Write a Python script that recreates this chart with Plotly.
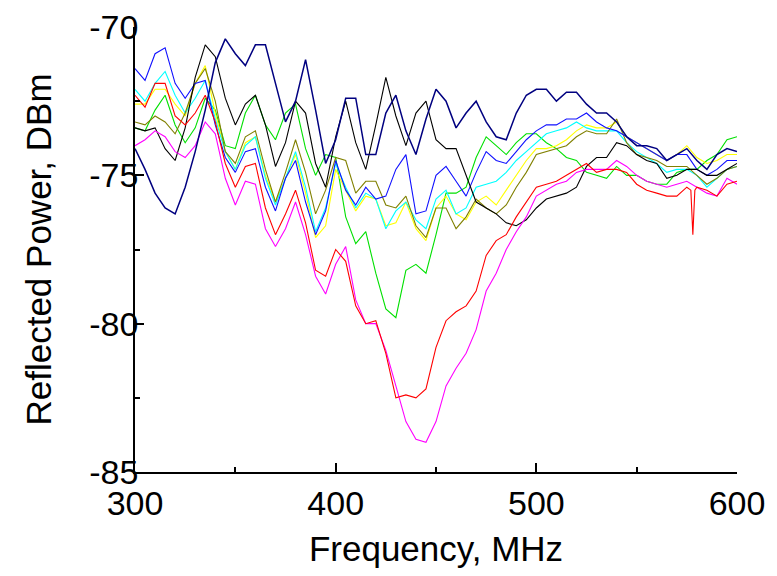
import plotly.graph_objects as go

freq = list(range(300, 601, 5))

navy = [-74.1, -74.8, -75.6, -76.1, -76.3, -75.4, -74.2, -72.8, -71.2, -70.4,
        -70.9, -71.3, -70.6, -70.6, -71.9, -73.2, -72.5, -71.1, -72.8, -74.6,
        -73.8, -72.4, -72.4, -74.3, -74.3, -72.9, -72.3, -73.5, -74.3, -73.1,
        -72.1, -72.5, -73.4, -72.9, -72.5, -73.2, -73.7, -73.8, -72.9, -72.3,
        -72.1, -72.1, -72.5, -72.2, -72.2, -72.6, -72.9, -72.9, -73.2, -73.7,
        -74.0, -74.0, -74.1, -74.5, -74.3, -74.1, -74.5, -74.8, -74.3, -74.1, -74.2]

black = [-73.4, -73.5, -73.4, -74.1, -74.5, -73.4, -71.7, -70.6, -71.0, -72.4,
         -73.3, -72.6, -72.3, -73.3, -74.7, -73.9, -72.5, -72.9, -74.6, -75.4,
         -73.7, -72.5, -73.9, -74.8, -73.3, -71.7, -73.0, -74.0, -72.9, -72.5,
         -73.8, -74.1, -74.1, -75.0, -75.9, -76.1, -76.3, -76.6, -76.7, -76.5,
         -76.1, -75.8, -75.7, -75.6, -75.4, -74.7, -74.4, -74.4, -73.9, -74.0,
         -74.3, -74.5, -74.6, -75.1, -75.0, -74.8, -74.8, -75.0, -75.0, -74.8, -74.6]

blue = [-71.4, -71.8, -70.9, -70.7, -71.9, -72.4, -71.9, -71.8, -73.3, -74.4,
        -74.9, -74.2, -74.1, -75.4, -76.2, -75.1, -74.5, -75.9, -77.0, -76.2,
        -74.5, -75.5, -76.0, -75.4, -75.8, -75.7, -74.8, -74.3, -76.3, -76.2,
        -75.0, -74.7, -75.2, -75.7, -74.9, -74.2, -74.5, -74.6, -74.2, -73.8,
        -73.5, -73.3, -73.3, -73.1, -73.1, -72.9, -73.2, -73.4, -73.5, -73.7,
        -73.9, -74.1, -74.3, -74.5, -74.3, -74.3, -74.8, -75.0, -74.8, -74.5, -74.5]

cyan = [-72.1, -72.5, -71.9, -71.5, -72.3, -72.9, -72.4, -71.8, -73.1, -74.2,
        -74.8, -74.0, -73.7, -75.1, -76.0, -75.1, -74.2, -75.4, -76.9, -76.1,
        -74.6, -75.4, -76.1, -75.6, -75.8, -76.8, -76.2, -75.9, -76.5, -76.8,
        -75.8, -75.5, -76.3, -76.1, -75.4, -75.3, -75.2, -74.9, -74.5, -74.2,
        -73.9, -73.6, -73.5, -73.4, -73.2, -73.4, -73.5, -73.5, -73.5, -73.9,
        -74.2, -74.4, -74.6, -74.9, -74.8, -74.8, -75.0, -75.4, -75.1, -74.8, -74.7]

yellow = [-72.6, -72.6, -72.1, -72.1, -72.6, -73.0, -71.9, -71.3, -72.9, -74.2,
          -74.8, -73.9, -73.7, -75.0, -75.9, -75.1, -74.3, -75.6, -77.1, -76.7,
          -74.8, -75.5, -76.2, -75.7, -75.8, -76.7, -76.6, -75.9, -76.8, -77.2,
          -76.1, -75.7, -76.3, -76.5, -75.9, -75.7, -76.0, -75.5, -75.0, -74.5,
          -74.1, -74.1, -74.0, -73.8, -73.5, -73.3, -73.4, -73.4, -73.2, -73.7,
          -73.9, -74.1, -74.3, -74.5, -74.3, -74.0, -74.4, -74.6, -74.5, -74.3, -74.3]

olive = [-73.2, -73.3, -73.0, -73.2, -73.6, -72.9, -71.9, -71.4, -72.5, -74.2,
         -74.6, -73.7, -73.5, -74.8, -75.9, -74.9, -73.8, -74.9, -76.3, -75.5,
         -74.4, -74.5, -75.6, -75.2, -75.2, -76.0, -76.1, -75.7, -76.7, -77.1,
         -76.1, -76.1, -76.8, -76.4, -75.8, -76.1, -76.3, -76.0, -75.4, -74.9,
         -74.3, -74.2, -74.1, -74.0, -73.7, -73.5, -73.6, -73.6, -73.1, -73.9,
         -74.3, -74.4, -74.5, -74.7, -74.7, -74.7, -75.0, -75.3, -75.1, -74.8, -74.7]

green = [-73.4, -73.5, -72.8, -72.3, -73.3, -73.9, -73.4, -72.4, -72.8, -74.0,
         -74.1, -72.9, -72.3, -73.3, -73.8, -72.9, -72.6, -74.1, -75.0, -74.3,
         -74.4, -76.4, -77.3, -76.9, -78.3, -79.5, -79.8, -78.2, -78.0, -78.3,
         -77.0, -75.6, -75.6, -75.4, -74.4, -73.7, -74.0, -74.3, -73.9, -73.6,
         -73.6, -73.9, -74.1, -74.4, -74.5, -74.9, -75.0, -75.1, -74.7, -75.0,
         -75.0, -75.2, -75.3, -75.3, -74.9, -74.8, -74.8, -74.5, -74.3, -73.8, -73.7]

red = [-72.3, -72.7, -71.9, -71.9, -73.0, -73.3, -72.9, -72.3, -73.2, -74.6,
       -75.4, -74.7, -74.6, -76.1, -77.0, -76.3, -75.5, -76.6, -78.2, -78.4,
       -77.5, -77.9, -79.4, -80.0, -79.9, -81.0, -82.5, -82.4, -82.5, -82.2,
       -80.8, -79.9, -79.6, -79.4, -78.9, -77.7, -77.2, -77.0, -76.4, -75.9,
       -75.4, -75.3, -75.2, -75.0, -74.8, -74.6, -74.9, -74.8, -74.8, -74.9,
       -75.3, -75.5, -75.6, -75.7, -75.7, -75.4, -75.4, -75.5, -75.7, -75.3, -75.2]

magenta = [-74.0, -73.8, -73.5, -73.7, -74.2, -74.4, -74.0, -73.2, -73.6, -75.1,
           -76.0, -75.2, -75.3, -76.8, -77.4, -76.8, -75.9, -77.0, -78.4, -79.0,
           -78.0, -77.4, -79.2, -80.0, -80.0, -80.9, -82.1, -83.3, -83.9, -84.0,
           -83.3, -82.1, -81.5, -81.0, -80.2, -78.9, -78.3, -77.5, -76.9, -76.4,
           -75.7, -75.5, -75.3, -75.2, -74.9, -74.8, -74.8, -74.8, -74.5, -74.7,
           -75.0, -75.2, -75.3, -75.4, -75.3, -75.2, -75.4, -75.6, -75.7, -75.1, -75.3]

# narrow downward spike on the red trace near 578 MHz
red_spike_freq = [575, 577, 578, 579, 580]
red_spike_val = [-75.4, -75.5, -77.0, -75.5, -75.4]

x_ticks = [300, 400, 500, 600]
x_tick_text = ["300", "400", "500", "600"]
y_ticks = [-85, -80, -75, -70]
y_tick_text = ["-85", "-80", "-75", "-70"]


def merge(xs, ys, sx, sy):
    pts = dict(zip(xs, ys))
    pts.update(dict(zip(sx, sy)))
    k = sorted(pts)
    return k, [pts[v] for v in k]


red_x, red_y = merge(freq, red, red_spike_freq, red_spike_val)

series = [
    ("green", freq, green, "#00e000", 1.1),
    ("yellow", freq, yellow, "#ffff00", 1.1),
    ("cyan", freq, cyan, "#00ffff", 1.1),
    ("olive", freq, olive, "#808000", 1.1),
    ("blue", freq, blue, "#1010ff", 1.1),
    ("black", freq, black, "#000000", 1.1),
    ("magenta", freq, magenta, "#ff00ff", 1.1),
    ("red", red_x, red_y, "#ff0000", 1.1),
    ("navy", freq, navy, "#000080", 1.5),
]

fig = go.Figure()
for name, xs, ys, col, w in series:
    fig.add_trace(go.Scatter(x=xs, y=ys, mode="lines", name=name,
                             line=dict(color=col, width=w), showlegend=False))

font = dict(family="Liberation Sans, Arial, sans-serif", size=35, color="black")
tick_font = dict(family="Liberation Sans, Arial, sans-serif", size=34, color="black")

fig.update_layout(
    width=761, height=560,
    margin=dict(l=127, r=32, t=19, b=96, autoexpand=False),
    paper_bgcolor="white", plot_bgcolor="white",
    font=font,
    showlegend=False,
)
fig.update_xaxes(
    range=[300, 600], tickvals=x_ticks, ticktext=x_tick_text,
    showline=True, linecolor="black", linewidth=1.5, mirror=False,
    ticks="inside", ticklen=9, tickwidth=1.5, tickcolor="black",
    minor=dict(tickvals=[350, 450, 550], ticks="inside", ticklen=5, tickwidth=1.5, tickcolor="black"),
    showgrid=False, zeroline=False, automargin=False,
    ticklabelstandoff=0, ticklabeloverflow="allow",
    title=dict(text="Frequency, MHz", font=font, standoff=29),
    tickfont=tick_font,
)
fig.update_yaxes(
    range=[-85, -70], tickvals=y_ticks, ticktext=y_tick_text,
    showline=True, linecolor="black", linewidth=1.5, mirror=False,
    ticks="inside", ticklen=9, tickwidth=1.5, tickcolor="black",
    minor=dict(tickvals=[-82.5, -77.5, -72.5], ticks="inside", ticklen=5, tickwidth=1.5, tickcolor="black"),
    showgrid=False, zeroline=False, automargin=False,
    ticklabelstandoff=-12, ticklabeloverflow="allow",
    title=dict(text="Reflected Power, DBm", font=font, standoff=27),
    tickfont=tick_font,
)

fig.write_html("out.html")
